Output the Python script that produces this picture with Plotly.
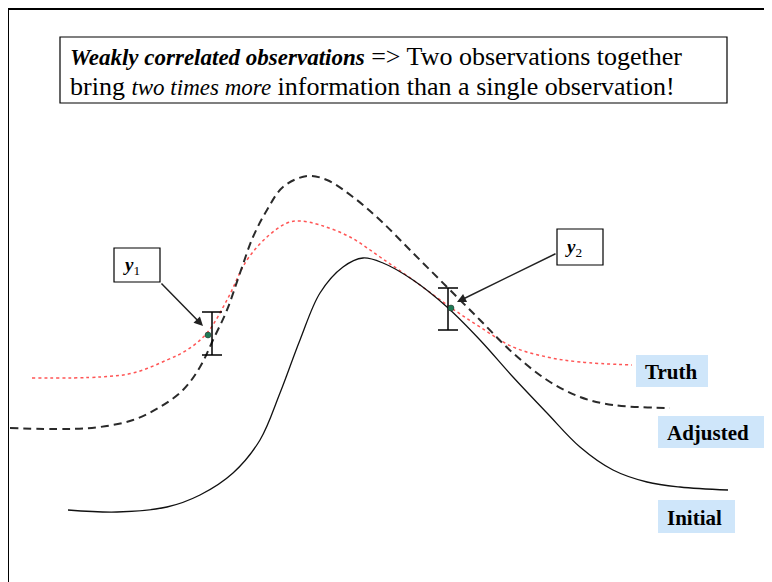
import plotly.graph_objects as go

# Curves (pixel-like units, y grows downward)
truth_x = [32, 100, 133, 167, 187, 207, 227, 247, 267, 287, 300, 320, 350, 380, 413, 450, 480, 513, 547, 580, 632]
truth_y = [378, 377, 373, 360, 350, 333, 300, 260, 237, 223, 221, 225, 237, 257, 280, 307, 327, 347, 357, 362, 365]

adj_x = [10, 67, 100, 133, 160, 183, 200, 213, 227, 240, 253, 267, 283, 307, 327, 353, 380, 413, 447, 480, 513, 547, 580, 613, 670]
adj_y = [428, 429, 427, 420, 407, 390, 367, 340, 310, 273, 237, 210, 187, 176, 180, 197, 220, 253, 287, 320, 353, 380, 397, 405, 408]

init_x = [68, 117, 167, 200, 233, 260, 280, 300, 320, 343, 363, 383, 413, 447, 480, 513, 547, 580, 613, 647, 680, 728]
init_y = [510, 512, 507, 495, 473, 440, 393, 340, 293, 267, 258, 263, 280, 307, 340, 377, 413, 447, 470, 482, 487, 490]

# Observations
obs_bar_x = [212, 448]
obs_bar_y = [333.5, 309]
obs_err = [21.5, 21]
obs_dot_x = [208, 451]
obs_dot_y = [335, 308]
obs_labels = ["y", "y"]
obs_subs = ["1", "2"]

series_labels = ["Truth", "Adjusted", "Initial"]
IT = "<span style=\"font-size:23px\">%s</span>"
title_lines = [
    "<b><i>" + IT % "Weakly correlated observations" + "</i></b> => Two observations together",
    "bring <i>" + IT % "two times more" + "</i> information than a single observation!",
]

fig = go.Figure()

fig.add_trace(go.Scatter(x=truth_x, y=truth_y, mode="lines",
                         line=dict(color="#ff5555", width=1.5, dash="dot", shape="spline"),
                         hoverinfo="skip", showlegend=False))
fig.add_trace(go.Scatter(x=adj_x, y=adj_y, mode="lines",
                         line=dict(color="#2a2a2a", width=2, dash="8px,5px", shape="spline"),
                         hoverinfo="skip", showlegend=False))
fig.add_trace(go.Scatter(x=init_x, y=init_y, mode="lines",
                         line=dict(color="#111111", width=1.3, shape="spline"),
                         hoverinfo="skip", showlegend=False))
fig.add_trace(go.Scatter(x=obs_bar_x, y=obs_bar_y, mode="markers",
                         marker=dict(size=0.1, color="rgba(0,0,0,0)"),
                         error_y=dict(type="data", array=obs_err, visible=True,
                                      color="black", thickness=1.5, width=10),
                         hoverinfo="skip", showlegend=False))
fig.add_trace(go.Scatter(x=obs_dot_x, y=obs_dot_y, mode="markers",
                         marker=dict(size=6, color="#1f7a55", line=dict(color="#222", width=0.5)),
                         hoverinfo="skip", showlegend=False))

shapes = []
# outer frame
shapes.append(dict(type="rect", xref="x", yref="y", x0=8, y0=9, x1=800, y1=620,
                   line=dict(color="black", width=2), layer="below"))
# title box
shapes.append(dict(type="rect", xref="x", yref="y", x0=60, y0=37, x1=727, y1=103,
                   line=dict(color="black", width=1.2), fillcolor="white"))
# y boxes
shapes.append(dict(type="rect", xref="x", yref="y", x0=114, y0=248, x1=160, y1=282,
                   line=dict(color="black", width=1.2), fillcolor="white"))
shapes.append(dict(type="rect", xref="x", yref="y", x0=557, y0=229, x1=603, y1=265,
                   line=dict(color="black", width=1.2), fillcolor="white"))
# series label boxes
label_boxes = [(636, 355, 708, 387), (658, 416, 767, 448), (658, 500, 735, 533)]
for (x0, y0, x1, y1) in label_boxes:
    shapes.append(dict(type="rect", xref="x", yref="y", x0=x0, y0=y0, x1=x1, y1=y1,
                       line=dict(width=0), fillcolor="#cfe6fa"))

annotations = []
serif = "Liberation Serif, Times New Roman, serif"
for line, ly in zip(title_lines, [56, 86]):
    annotations.append(dict(xref="x", yref="y", x=68, y=ly, xanchor="left", yanchor="middle",
                            text=line, showarrow=False, align="left",
                            font=dict(family=serif, size=26, color="black")))
# y labels
annotations.append(dict(xref="x", yref="y", x=121, y=266, xanchor="left", yanchor="middle",
                        text="<b><i>%s</i></b><sub>%s</sub>" % (obs_labels[0], obs_subs[0]),
                        showarrow=False, font=dict(family=serif, size=19, color="black")))
annotations.append(dict(xref="x", yref="y", x=563, y=248, xanchor="left", yanchor="middle",
                        text="<b><i>%s</i></b><sub>%s</sub>" % (obs_labels[1], obs_subs[1]),
                        showarrow=False, font=dict(family=serif, size=19, color="black")))
# arrows
annotations.append(dict(xref="x", yref="y", axref="x", ayref="y", x=203, y=326, ax=160, ay=282,
                        text="", showarrow=True, arrowhead=2, arrowsize=1.2, arrowwidth=1.5,
                        arrowcolor="#222"))
annotations.append(dict(xref="x", yref="y", axref="x", ayref="y", x=457, y=302, ax=557, ay=253,
                        text="", showarrow=True, arrowhead=2, arrowsize=1.2, arrowwidth=1.5,
                        arrowcolor="#222"))
# series labels
label_pos = [(643, 372), (665, 433), (665, 518)]
for lab, (lx, ly) in zip(series_labels, label_pos):
    annotations.append(dict(xref="x", yref="y", x=lx, y=ly, xanchor="left", yanchor="middle",
                            text="<b>%s</b>" % lab, showarrow=False,
                            font=dict(family=serif, size=21, color="black")))

# The page body has an 8px margin; ranges are shifted so data units equal page pixels.
fig.update_layout(
    width=772, height=582,
    margin=dict(l=0, r=0, t=0, b=0),
    paper_bgcolor="white", plot_bgcolor="white",
    xaxis=dict(range=[8, 780], visible=False, fixedrange=True),
    yaxis=dict(range=[590, 8], visible=False, fixedrange=True),
    shapes=shapes, annotations=annotations,
)

fig.write_html("out.html")
